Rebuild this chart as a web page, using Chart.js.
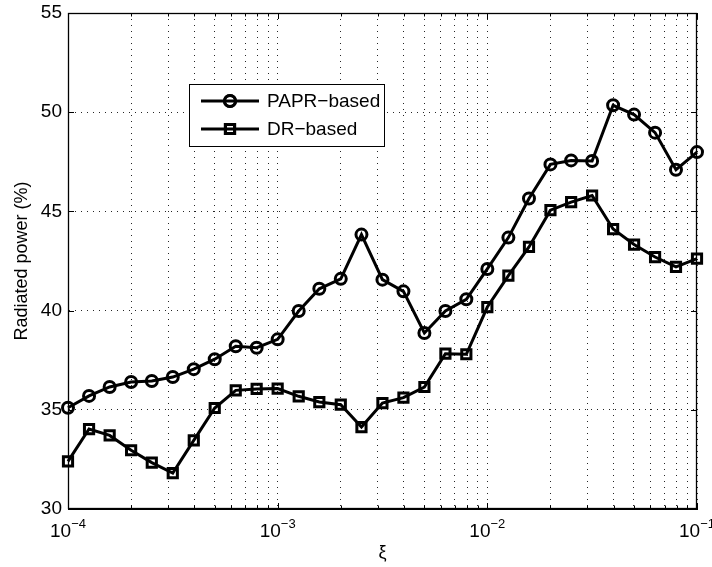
<!DOCTYPE html>
<html>
<head>
<meta charset="utf-8">
<script src="https://cdn.jsdelivr.net/npm/chart.js@4/dist/chart.umd.min.js"></script>
<style>
  html, body { margin: 0; padding: 0; background: #fff; }
  #wrap { width: 712px; height: 567px; }
</style>
</head>
<body>
<div id="wrap"><canvas id="chart" width="712" height="567"></canvas></div>
<script>
// xi sample points (10 per decade)
const xiValues = [
    1.00e-4, 1.26e-4, 1.58e-4, 2.00e-4, 2.51e-4, 3.16e-4, 3.98e-4, 5.01e-4, 6.31e-4, 7.94e-4,
    1.00e-3, 1.26e-3, 1.58e-3, 2.00e-3, 2.51e-3, 3.16e-3, 3.98e-3, 5.01e-3, 6.31e-3, 7.94e-3,
    1.00e-2, 1.26e-2, 1.58e-2, 2.00e-2, 2.51e-2, 3.16e-2, 3.98e-2, 5.01e-2, 6.31e-2, 7.94e-2,
    1.00e-1
];

const paprBased = [
    35.1, 35.7, 36.15, 36.4, 36.45, 36.65, 37.05, 37.55, 38.2, 38.13,
    38.55, 39.98, 41.1, 41.6, 43.83, 41.56, 40.97, 38.87, 39.98, 40.57,
    42.1, 43.68, 45.65, 47.37, 47.57, 47.54, 50.35, 49.88, 48.97, 47.1,
    47.99
];

const drBased = [
    32.4, 34.03, 33.71, 32.96, 32.34, 31.81, 33.46, 35.09, 35.98, 36.05,
    36.07, 35.68, 35.39, 35.26, 34.13, 35.34, 35.61, 36.15, 37.83, 37.8,
    40.18, 41.76, 43.21, 45.06, 45.47, 45.8, 44.11, 43.33, 42.7, 42.2,
    42.62
];

const seriesNames = ['PAPR\u2212based', 'DR\u2212based'];
const decades = [1e-4, 1e-3, 1e-2, 1e-1];
const decadeExponents = ['\u22124', '\u22123', '\u22122', '\u22121'];
const minorSteps = [2, 3, 4, 5, 6, 7, 8, 9];
const yTicks = [30, 35, 40, 45, 50, 55];

const FONT = '"Liberation Sans", Arial, Helvetica, sans-serif';

const xTickValues = [];
decades.forEach((d, i) => {
    xTickValues.push({ value: d, major: true });
    if (i < decades.length - 1) minorSteps.forEach(m => xTickValues.push({ value: d * m, major: false }));
});

function points(ys) {
    return ys.map((y, i) => ({ x: xiValues[i], y }));
}

const frame = {
    id: 'frame',
    afterDraw(chart) {
        const { ctx, chartArea: a, scales: { x, y } } = chart;
        ctx.save();

        // box
        ctx.strokeStyle = '#000';
        ctx.lineWidth = 1.3;
        ctx.setLineDash([]);
        ctx.strokeRect(a.left + 0.5, a.top + 0.5, a.right - a.left - 1, a.bottom - a.top - 1);

        // inside ticks
        ctx.lineWidth = 1;
        ctx.beginPath();
        xTickValues.forEach(t => {
            const px = Math.round(x.getPixelForValue(t.value)) + 0.5;
            const len = t.major ? 6 : 3.5;
            ctx.moveTo(px, a.bottom); ctx.lineTo(px, a.bottom - len);
            ctx.moveTo(px, a.top); ctx.lineTo(px, a.top + len);
        });
        yTicks.forEach(v => {
            const py = Math.round(y.getPixelForValue(v)) + 0.5;
            ctx.moveTo(a.left, py); ctx.lineTo(a.left + 6, py);
            ctx.moveTo(a.right, py); ctx.lineTo(a.right - 6, py);
        });
        ctx.stroke();

        // x tick labels 10^n
        ctx.fillStyle = '#000';
        ctx.textBaseline = 'alphabetic';
        decades.forEach((d, i) => {
            const px = x.getPixelForValue(d);
            ctx.font = '19px ' + FONT;
            const wBase = ctx.measureText('10').width;
            ctx.font = '13px ' + FONT;
            const wExp = ctx.measureText(decadeExponents[i]).width;
            const start = px - (wBase + wExp) / 2;
            ctx.font = '19px ' + FONT;
            ctx.textAlign = 'left';
            ctx.fillText('10', start, 537);
            ctx.font = '13px ' + FONT;
            ctx.fillText(decadeExponents[i], start + wBase, 528);
        });

        // legend
        const lx = 189, ly = 84, lw = 195, lh = 62;
        ctx.fillStyle = '#fff';
        ctx.fillRect(lx, ly, lw, lh);
        ctx.strokeStyle = '#000';
        ctx.lineWidth = 1;
        ctx.strokeRect(lx + 0.5, ly + 0.5, lw, lh);
        const rows = [101, 129];
        chart.data.datasets.forEach((ds, i) => {
            const ry = rows[i];
            ctx.strokeStyle = '#000';
            ctx.lineWidth = ds.borderWidth;
            ctx.beginPath();
            ctx.moveTo(201, ry); ctx.lineTo(259, ry);
            ctx.stroke();
            ctx.lineWidth = ds.pointBorderWidth;
            ctx.fillStyle = 'rgba(0,0,0,0)';
            Chart.helpers.drawPoint(ctx, { pointStyle: ds.pointStyle, radius: ds.pointRadius, borderWidth: ds.pointBorderWidth, rotation: 0 }, 230, ry);
            ctx.stroke();
            ctx.fillStyle = '#000';
            ctx.font = '19px ' + FONT;
            ctx.textAlign = 'left';
            ctx.textBaseline = 'middle';
            ctx.fillText(ds.label, 267, ry + 1);
        });

        ctx.restore();
    }
};

function noEdgePadding(s) {
    s.paddingTop = 0;
    s.paddingBottom = 0;
    s.paddingLeft = 0;
    s.paddingRight = 0;
}

new Chart(document.getElementById('chart'), {
    type: 'line',
    data: {
        datasets: [
            {
                label: seriesNames[0],
                data: points(paprBased),
                borderColor: '#000',
                borderWidth: 3,
                backgroundColor: 'rgba(0,0,0,0)',
                pointStyle: 'circle',
                pointRadius: 5.5,
                pointBorderWidth: 3,
                pointBackgroundColor: 'rgba(0,0,0,0)',
                pointBorderColor: '#000',
                tension: 0,
                clip: false
            },
            {
                label: seriesNames[1],
                data: points(drBased),
                borderColor: '#000',
                borderWidth: 3,
                backgroundColor: 'rgba(0,0,0,0)',
                pointStyle: 'rect',
                pointRadius: 6.5,
                pointBorderWidth: 3,
                pointBackgroundColor: 'rgba(0,0,0,0)',
                pointBorderColor: '#000',
                tension: 0,
                clip: false
            }
        ]
    },
    options: {
        responsive: false,
        animation: false,
        devicePixelRatio: 1,
        layout: { padding: { left: 0, top: 13, right: 15, bottom: 0 } },
        plugins: {
            legend: { display: false },
            tooltip: { enabled: false }
        },
        scales: {
            x: {
                type: 'logarithmic',
                min: 1e-4,
                max: 1e-1,
                afterBuildTicks: s => { s.ticks = xTickValues.map(t => ({ value: t.value, major: t.major })); },
                afterFit: s => { s.height = 58; noEdgePadding(s); },
                ticks: { display: false },
                grid: {
                    color: 'rgba(0,0,0,0.85)',
                    lineWidth: 1,
                    drawTicks: false
                },
                border: { display: true, color: '#000', width: 1, dash: [1, 5] },
                title: {
                    display: true,
                    text: '\u03be',
                    color: '#000',
                    font: { family: FONT, size: 18 },
                    padding: { top: 0, bottom: 3 }
                }
            },
            y: {
                min: 30,
                max: 55,
                afterBuildTicks: s => { s.ticks = yTicks.map(v => ({ value: v })); },
                afterFit: s => { s.width = 68; noEdgePadding(s); },
                ticks: {
                    color: '#000',
                    padding: 6,
                    font: { family: FONT, size: 19 }
                },
                grid: {
                    color: 'rgba(0,0,0,0.85)',
                    lineWidth: 1,
                    drawTicks: false
                },
                border: { display: true, color: '#000', width: 1, dash: [1, 5] },
                title: {
                    display: true,
                    text: 'Radiated power (%)',
                    color: '#000',
                    font: { family: FONT, size: 18 },
                    padding: { top: 11, bottom: 0 }
                }
            }
        }
    },
    plugins: [frame]
});
</script>
</body>
</html>
